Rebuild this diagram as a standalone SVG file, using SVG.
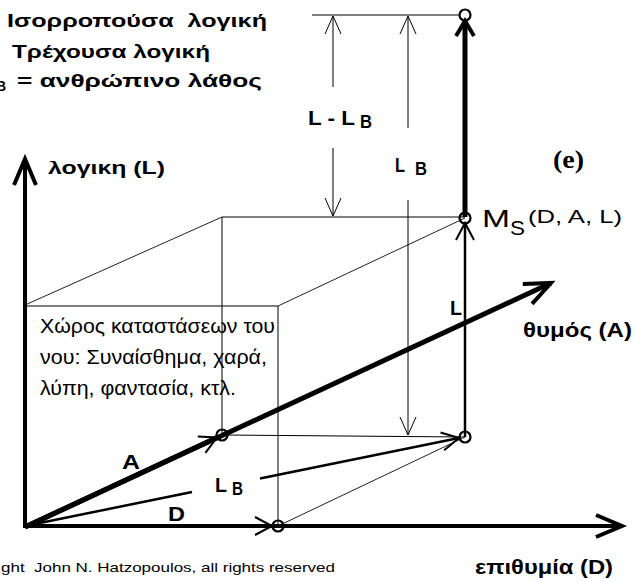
<svg xmlns="http://www.w3.org/2000/svg" width="633" height="581" viewBox="0 0 633 581">
<style>
text{font-family:"Liberation Sans",Arial,sans-serif;fill:#000}
.b{font-weight:bold}
.thin{stroke:#000;stroke-width:1;fill:none}
.diag{stroke:#222;stroke-width:1;fill:none}
.axis{stroke:#000;stroke-width:4;fill:none}
.vec{stroke:#000;stroke-width:5;fill:none}
.med{stroke:#000;stroke-width:2.5;fill:none}
.pt{stroke:#000;stroke-width:2.2;fill:none}
</style>
<defs>
<marker id="axisHead" markerUnits="userSpaceOnUse" viewBox="-30 -15 34 30" refX="0" refY="0" markerWidth="34" markerHeight="30" orient="auto" overflow="visible"><path d="M-26,-11 L0,0 L-26,11" fill="none" stroke="#000" stroke-width="4"/></marker>
<marker id="topHead" markerUnits="userSpaceOnUse" viewBox="-20 -12 22 24" refX="0" refY="0" markerWidth="22" markerHeight="24" orient="auto" overflow="visible"><path d="M-15,-9 L0,0 L-15,9" fill="none" stroke="#000" stroke-width="4"/></marker>
<marker id="medHead" markerUnits="userSpaceOnUse" viewBox="-20 -12 22 24" refX="0" refY="0" markerWidth="22" markerHeight="24" orient="auto" overflow="visible"><path d="M-17,-9 L0,0 L-17,9" fill="none" stroke="#000" stroke-width="2"/></marker>
<marker id="dimHead" markerUnits="userSpaceOnUse" viewBox="-20 -10 22 20" refX="0" refY="0" markerWidth="22" markerHeight="20" orient="auto" overflow="visible"><path d="M-18,-8 L0,0 L-18,8" fill="none" stroke="#000" stroke-width="1"/></marker>
<clipPath id="clipL"><rect x="0" y="161" width="220" height="30"/></clipPath>
</defs>

<g id="connectors">
  <line class="thin" x1="25" y1="306" x2="278" y2="306"/>
  <line class="thin" x1="278" y1="306" x2="278" y2="526"/>
  <line class="thin" x1="222" y1="217" x2="465" y2="217"/>
  <line class="thin" x1="222" y1="217" x2="222" y2="435"/>
  <line class="thin" x1="222" y1="435" x2="465" y2="437"/>
  <line class="diag" x1="25" y1="305" x2="222" y2="217"/>
  <line class="diag" x1="278" y1="306" x2="465" y2="218"/>
  <line class="diag" x1="278" y1="526" x2="465" y2="437"/>
  <line class="thin" x1="312" y1="15" x2="460" y2="15"/>
  <line class="thin" x1="333" y1="87" x2="333" y2="16" marker-end="url(#dimHead)"/>
  <line class="thin" x1="333" y1="148" x2="333" y2="216" marker-end="url(#dimHead)"/>
  <line class="thin" x1="408" y1="128" x2="408" y2="16" marker-end="url(#dimHead)"/>
  <line class="thin" x1="408" y1="200" x2="408" y2="435" marker-end="url(#dimHead)"/>
  <line class="axis" x1="25" y1="528" x2="25" y2="159" marker-end="url(#axisHead)"/>
  <line class="axis" x1="23" y1="526" x2="622" y2="526" marker-end="url(#axisHead)"/>
  <line class="vec" x1="25" y1="527" x2="551" y2="283" marker-end="url(#axisHead)"/>
  <line class="vec" x1="25" y1="527" x2="217" y2="437.5" marker-end="url(#medHead)"/>
  <line class="axis" x1="25" y1="526" x2="272" y2="526" marker-end="url(#medHead)"/>
  <line class="med" x1="30" y1="525" x2="192" y2="492"/>
  <line class="med" x1="260" y1="478.5" x2="459" y2="438" marker-end="url(#medHead)"/>
  <line class="med" x1="465" y1="437" x2="465" y2="223" marker-end="url(#medHead)"/>
  <line class="vec" x1="465" y1="217" x2="465" y2="21" marker-end="url(#topHead)"/>
</g>

<g id="node-top"><circle class="pt" cx="465" cy="15" r="5.5"/></g>
<g id="node-MS"><circle class="pt" cx="465" cy="218" r="5.5"/></g>
<g id="node-P"><circle class="pt" cx="465" cy="437" r="5.5"/></g>
<g id="node-A"><circle class="pt" cx="222" cy="435" r="5.5"/></g>
<g id="node-D"><circle class="pt" cx="278" cy="526" r="5.5"/></g>

<g id="legend">
  <text class="b" x="7" y="27" font-size="19" textLength="260" lengthAdjust="spacingAndGlyphs">Ισορροπούσα&#160; λογική</text>
  <text class="b" x="12" y="58" font-size="19" textLength="198" lengthAdjust="spacingAndGlyphs">Τρέχουσα λογική</text>
  <text class="b" x="-4" y="91" font-size="14">B</text>
  <text class="b" x="17" y="87" font-size="19" textLength="245" lengthAdjust="spacingAndGlyphs">= ανθρώπινο λάθος</text>
</g>

<g id="labels">
  <text class="b" x="48" y="174" font-size="19" textLength="117" lengthAdjust="spacingAndGlyphs" clip-path="url(#clipL)">λογικη (L)</text>
  <text class="b" x="308" y="125" font-size="20" textLength="47" lengthAdjust="spacingAndGlyphs">L - L</text>
  <text class="b" x="360" y="128" font-size="18" textLength="12" lengthAdjust="spacingAndGlyphs">B</text>
  <text class="b" x="395" y="172" font-size="20" textLength="10" lengthAdjust="spacingAndGlyphs">L</text>
  <text class="b" x="415" y="175" font-size="18" textLength="12" lengthAdjust="spacingAndGlyphs">B</text>
  <text x="553" y="168" font-size="26" font-weight="bold" textLength="31" lengthAdjust="spacingAndGlyphs" style="font-family:'Liberation Serif','Times New Roman',serif">(e)</text>
  <text x="482" y="227" font-size="23" textLength="28" lengthAdjust="spacingAndGlyphs">M</text>
  <text x="510" y="235" font-size="21" textLength="15" lengthAdjust="spacingAndGlyphs">S</text>
  <text x="528" y="223" font-size="19" textLength="94" lengthAdjust="spacingAndGlyphs">(D, A, L)</text>
  <text class="b" x="450" y="315" font-size="20" textLength="12" lengthAdjust="spacingAndGlyphs">L</text>
  <text class="b" x="523" y="337" font-size="20" textLength="109" lengthAdjust="spacingAndGlyphs">θυμός (A)</text>
  <text class="b" x="122" y="469" font-size="20" textLength="18" lengthAdjust="spacingAndGlyphs">A</text>
  <text class="b" x="215" y="492" font-size="20" textLength="12" lengthAdjust="spacingAndGlyphs">L</text>
  <text class="b" x="232" y="495" font-size="18" textLength="11" lengthAdjust="spacingAndGlyphs">B</text>
  <text class="b" x="168" y="521" font-size="20" textLength="17" lengthAdjust="spacingAndGlyphs">D</text>
  <text class="b" x="475" y="574" font-size="20" textLength="138" lengthAdjust="spacingAndGlyphs">επιθυμία (D)</text>
</g>

<g id="state-space">
  <text x="40" y="333" font-size="21" textLength="235" lengthAdjust="spacingAndGlyphs">Χώρος καταστάσεων του</text>
  <text x="40" y="364" font-size="21" textLength="227" lengthAdjust="spacingAndGlyphs">νου: Συναίσθημα, χαρά,</text>
  <text x="40" y="395" font-size="21" textLength="196" lengthAdjust="spacingAndGlyphs">λύπη, φαντασία, κτλ.</text>
</g>

<g id="copyright">
  <text x="1" y="572" font-size="13" textLength="334" lengthAdjust="spacingAndGlyphs">ght&#160; John N. Hatzopoulos, all rights reserved</text>
</g>
</svg>
